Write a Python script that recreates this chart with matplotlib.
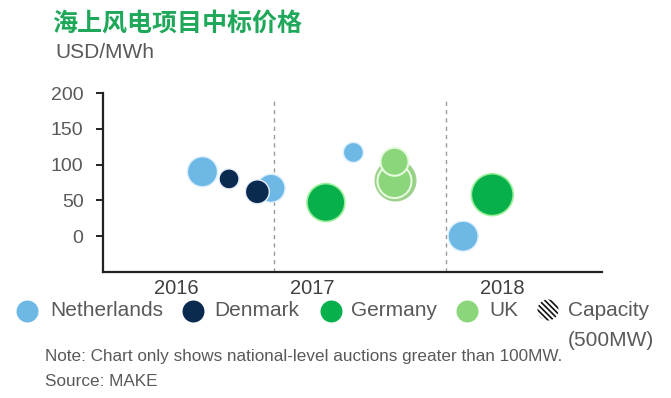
import matplotlib
matplotlib.use("Agg")
import matplotlib.pyplot as plt
from matplotlib.patches import Circle

plt.rcParams['font.family'] = ['Liberation Sans', 'DejaVu Sans']

# bubble data: position in time, price (USD/MWh), capacity (MW, approx from bubble size)
nl_t = [2016.58, 2016.98, 2017.46, 2018.10]
nl_price = [90, 67, 117, 0]
nl_cap = [680, 590, 300, 680]

dk_t = [2016.735, 2016.90]
dk_price = [80, 62]
dk_cap = [300, 430]

de_t = [2017.30, 2018.27]
de_price = [47, 58]
de_cap = [1080, 1320]

uk_t = [2017.70, 2017.70, 2017.70]
uk_price = [78, 77, 104]
uk_cap = [1200, 870, 590]

years = ['2016', '2017', '2018']
year_pos = [2016.43, 2017.22, 2018.33]
yticks = [0, 50, 100, 150, 200]

c_nl = '#6db8e4'
c_dk = '#0b2a50'
c_de = '#07b04b'
c_uk = '#8bd67a'
grey = '#595959'

k = 0.69  # capacity -> marker area

fig = plt.figure(figsize=(6.71, 3.98), dpi=100)
ax = fig.add_axes([0.1535, 0.3166, 0.7437, 0.4497])

ax.vlines([2017, 2018], -50, 190, colors='#9a9a9a', linestyles=(0, (3, 3)), linewidth=1, zorder=1)

ax.scatter(nl_t, nl_price, s=[c * k for c in nl_cap], color=c_nl, edgecolors='#dcefff', linewidths=1, zorder=3)
ax.scatter(dk_t, dk_price, s=[c * k for c in dk_cap], color=c_dk, edgecolors='#e8eef8', linewidths=1, zorder=4)
ax.scatter(de_t, de_price, s=[c * k for c in de_cap], color=c_de, edgecolors='#9cf09c', linewidths=1.2, zorder=3)
ax.scatter(uk_t[:1], uk_price[:1], s=[uk_cap[0] * k], color='#8fd27c', edgecolors='#a0d090', linewidths=1.5, zorder=3)
ax.scatter(uk_t[1:], uk_price[1:], s=[c * k for c in uk_cap[1:]], color=c_uk, edgecolors='#e6fbe0', linewidths=1.5, zorder=4)

ax.set_xlim(2016.0, 2018.91)
ax.set_ylim(-50, 200)
ax.set_yticks(yticks)
ax.set_xticks(year_pos)
ax.set_xticklabels(years)
for s in ['top', 'right']:
    ax.spines[s].set_visible(False)
for s in ['left', 'bottom']:
    ax.spines[s].set_linewidth(1.6)
    ax.spines[s].set_color('#222222')
ax.tick_params(axis='y', length=5, width=1.4, color='#222222', pad=9, labelsize=14, labelcolor=grey)
ax.tick_params(axis='x', length=0, pad=5, labelsize=14.5, labelcolor='#404040')

# title and unit
fig.text(52 / 671, 1 - 24 / 398, '海上风电项目中标价格', fontsize=18, fontweight='bold',
         color='#1fa85a', va='center', family=['Noto Sans CJK SC', 'DejaVu Sans'])
fig.text(55 / 671, 1 - 53 / 398, 'USD/MWh', fontsize=15, color=grey, va='center')

# legend drawn on an overlay in pixel units
ov = fig.add_axes([0, 0, 1, 1], zorder=5)
ov.set_xlim(0, 671)
ov.set_ylim(398, 0)
ov.axis('off')

leg_names = ['Netherlands', 'Denmark', 'Germany', 'UK']
leg_colors = [c_nl, c_dk, c_de, c_uk]
leg_mx = [27, 193, 331, 467]
leg_tx = [50, 214, 351, 489]
for name, col, mx, tx in zip(leg_names, leg_colors, leg_mx, leg_tx):
    ov.scatter([mx], [311], s=250, color=col, linewidths=0)
    ov.text(tx, 311, name, fontsize=15, color=grey, va='center')

plt.rcParams['hatch.linewidth'] = 1.2
ov.add_patch(Circle((548, 310), 10.5, facecolor='none', edgecolor='#111111', linewidth=0,
                    hatch='\\\\\\\\\\\\'))
ov.text(568, 311, 'Capacity', fontsize=15, color=grey, va='center')
ov.text(568, 341, '(500MW)', fontsize=15, color=grey, va='center')

ov.text(45, 357, 'Note: Chart only shows national-level auctions greater than 100MW.',
        fontsize=12.3, color=grey, va='center')
ov.text(45, 381, 'Source: MAKE', fontsize=12.3, color=grey, va='center')

fig.savefig('out.png', dpi=100)
